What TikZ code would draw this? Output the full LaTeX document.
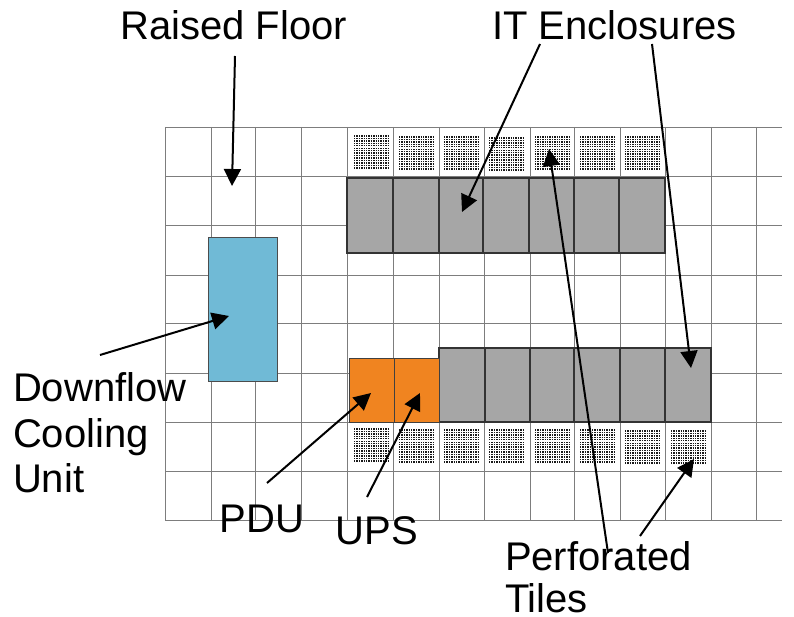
\documentclass[tikz,border=0pt]{standalone}
\usepackage{fontspec}
\setmainfont{Liberation Sans}
\usetikzlibrary{arrows.meta}
\definecolor{gridc}{RGB}{125,125,125}
\definecolor{encl}{RGB}{166,166,166}
\definecolor{cool}{RGB}{112,186,214}
\definecolor{orng}{RGB}{240,132,32}
\tikzset{x=1pt,y=-1pt,
  gridline/.style={draw=gridc,line width=0.8pt},
  enclosure/.style={draw=black!80,line width=1.05pt,fill=encl},
  coolunit/.style={draw=black!70,line width=0.8pt,fill=cool},
  pdu/.style={draw=black!75,line width=1pt,fill=orng},
  lbl/.style={font=\fontsize{40}{45}\selectfont,inner sep=0pt,outer sep=0pt},
  lbll/.style={lbl,align=left},
  arr/.style={draw=black,line width=2pt,-{Triangle[length=17pt,width=17pt]}},
  dots/.style={line width=1.35pt,black!90,dash pattern=on 1.35pt off 1.05pt}
}
\newcommand{\tile}[2]{%
  \foreach \k in {0,...,13}{\draw[dots] (#1,#2+\k*2.45) -- ++(34.5,0);}}
\begin{document}
\begin{tikzpicture}
\useasboundingbox (0,0) rectangle (794,617);
\foreach \X in {165,211,255,301,347,393,439,484,530,574,620,665,711,756}{\draw[gridline] (\X,127) -- (\X,520);}
\foreach \Y in {127,176,225,275,323,373,422,471,520}{\draw[gridline] (165,\Y) -- (782,\Y);}
\foreach \X/\Y in {354/136,399/137,444/137,489/138,535/137,580/137,625/137}{\tile{\X}{\Y}}
\foreach \X/\Y in {354/429,399/430,444/430,489/430,535/430,580/430,625/431,671/431}{\tile{\X}{\Y}}
\foreach \a/\b in {347/393,393/439,439/483,483/529,529/574,574/619,619/665}{
  \draw[enclosure] (\a,178) rectangle (\b,253);}
\foreach \a/\b in {439/485,485/530,530/574,574/620,620/665,665/711}{
  \draw[enclosure] (\a,348) rectangle (\b,422);}
\draw[pdu] (349,358) rectangle (394,422);
\draw[pdu] (394,358) rectangle (439,422);
\draw[coolunit] (208,237) rectangle (277,381);
\node[lbl,anchor=base] (raised) at (233.5,40) {Raised Floor};
\node[lbl,anchor=base] (it) at (614.5,40) {IT Enclosures};
\node[lbll,anchor=base west] (down) at (13,401) {Downflow};
\node[lbll,anchor=base west] (cool) at (13,447) {Cooling};
\node[lbll,anchor=base west] (unit) at (13,492) {Unit};
\node[lbl,anchor=base] (pdul) at (262,532) {PDU};
\node[lbl,anchor=base] (upsl) at (377,544) {UPS};
\node[lbll,anchor=base west] (perf) at (505,570) {Perforated};
\node[lbll,anchor=base west] (tiles) at (505,612) {Tiles};
\coordinate (a1s) at (235,56); \coordinate (a1e) at (232,186);
\coordinate (a2s) at (540,44); \coordinate (a2e) at (462,212);
\coordinate (a3s) at (652,44); \coordinate (a3e) at (691,368);
\coordinate (a4s) at (100,355); \coordinate (a4e) at (229,316);
\coordinate (a5s) at (267,483); \coordinate (a5e) at (371,393);
\coordinate (a6s) at (367,497); \coordinate (a6e) at (420,393);
\coordinate (a7s) at (608,553); \coordinate (a7e) at (549,149);
\coordinate (a8s) at (640,536); \coordinate (a8e) at (694,459);
\foreach \n in {1,...,8}{\draw[arr] (a\n s) -- (a\n e);}
\end{tikzpicture}
\end{document}
